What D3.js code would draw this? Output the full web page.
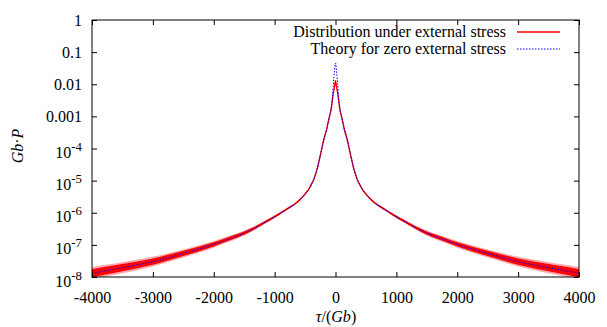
<!DOCTYPE html>
<html><head><meta charset="utf-8">
<script src="https://cdn.jsdelivr.net/npm/d3@7"></script>
<style>
body{margin:0;background:#fff}
svg{display:block}
text{font-family:"Liberation Serif","Times New Roman",serif;fill:#000}
</style>
</head><body>
<svg id="chart" width="607" height="327"></svg>
<script>
// ---- data ----
const stressX = [-4000,-3750,-3500,-3250,-3000,-2750,-2500,-2250,-2000,-1800,-1600,-1400,-1268,-1150,-1043,-930,-821,-740,-657,-575,-493,-427,-395,-361,-330,-304,-275,-246,-220,-194,-170,-148,-130,-112,-92,-74,-55,-36,-15,0,
  15,36,55,74,92,112,130,148,170,194,220,246,275,304,330,361,395,427,493,575,657,740,821,930,1043,1150,1268,1400,1600,1800,2000,2250,2500,2750,3000,3250,3500,3750,4000];
const distP = [1.3e-8,1.6e-8,1.95e-8,2.4e-8,3e-8,4e-8,5.4e-8,7.4e-8,1.04e-7,1.43e-7,1.95e-7,2.85e-7,3.87e-7,5.2e-7,6.7e-7,9.1e-7,1.22e-6,1.53e-6,1.94e-6,2.68e-6,3.95e-6,5.9e-6,7.8e-6,1.045e-5,1.55e-5,2.2e-5,3.8e-5,6.5e-5,1.1e-4,1.84e-4,2.67e-4,3.77e-4,5.4e-4,7.7e-4,1.13e-3,1.58e-3,2.9e-3,5.2e-3,8.8e-3,1.29e-2,
  8.8e-3,5.2e-3,2.9e-3,1.58e-3,1.13e-3,7.7e-4,5.4e-4,3.77e-4,2.67e-4,1.84e-4,1.1e-4,6.5e-5,3.8e-5,2.2e-5,1.55e-5,1.045e-5,7.8e-6,5.9e-6,3.95e-6,2.68e-6,1.94e-6,1.53e-6,1.22e-6,9.1e-7,6.7e-7,5.2e-7,3.87e-7,2.85e-7,1.95e-7,1.43e-7,1.04e-7,7.4e-8,5.4e-8,4e-8,3e-8,2.4e-8,1.95e-8,1.6e-8,1.3e-8];
// half-width of the noisy band, in decades
const distSpread = [0.17,0.16,0.15,0.14,0.13,0.12,0.11,0.10,0.09,0.08,0.07,0.06,0.05,0.045,0.04,0.035,0.03,0.03,0.025,0.025,0.02,0.02,0.02,0.02,0.015,0.015,0.015,0.015,0.015,0.015,0.015,0.015,0.015,0.015,0.015,0.015,0.015,0.015,0.015,0.015,
  0.015,0.015,0.015,0.015,0.015,0.015,0.015,0.015,0.015,0.015,0.015,0.015,0.015,0.015,0.015,0.02,0.02,0.02,0.02,0.025,0.025,0.03,0.03,0.035,0.04,0.045,0.05,0.06,0.07,0.08,0.09,0.10,0.11,0.12,0.13,0.14,0.15,0.16,0.17];
const theoryX = [-4000,-3500,-3000,-2500,-2000,-1600,-1268,-1043,-821,-657,-493,-427,-361,-304,-246,-194,-148,-112,-74,-55,-36,-18,0,
  18,36,55,74,112,148,194,246,304,361,427,493,657,821,1043,1268,1600,2000,2500,3000,3500,4000];
const theoryP = [1.3e-8,1.95e-8,3e-8,5.4e-8,1.04e-7,1.95e-7,3.87e-7,6.7e-7,1.22e-6,1.94e-6,3.95e-6,5.9e-6,1.045e-5,2.2e-5,6.5e-5,1.84e-4,3.77e-4,7.7e-4,1.6e-3,3.0e-3,1.0e-2,2.4e-2,4.6e-2,
  2.4e-2,1.0e-2,3.0e-3,1.6e-3,7.7e-4,3.77e-4,1.84e-4,6.5e-5,2.2e-5,1.045e-5,5.9e-6,3.95e-6,1.94e-6,1.22e-6,6.7e-7,3.87e-7,1.95e-7,1.04e-7,5.4e-8,3e-8,1.95e-8,1.3e-8];
const xTicks = [-4000,-3000,-2000,-1000,0,1000,2000,3000,4000];
const yTicks = [1,0.1,0.01,0.001,1e-4,1e-5,1e-6,1e-7,1e-8];
const yTickBase = ["1","0.1","0.01","0.001","10","10","10","10","10"];
const yTickExp  = ["","","","","-4","-5","-6","-7","-8"];
const legendLabels = ["Distribution under external stress","Theory for zero external stress"];
const seriesColors = ["#ff0000","#0000ff"];

// ---- layout ----
const W = 607, H = 327;
const m = {left:92, right:28, top:20, bottom:50};
const svg = d3.select("#chart");
const x = d3.scaleLinear().domain([-4000,4000]).range([m.left, W-m.right]);
const y = d3.scaleLog().domain([1e-8,1]).range([H-m.bottom, m.top]);

svg.append("defs").append("clipPath").attr("id","clip")
  .append("rect").attr("x",m.left).attr("y",m.top)
  .attr("width",W-m.left-m.right).attr("height",H-m.top-m.bottom);

const dist = stressX.map((v,i)=>({x:v,p:distP[i],s:distSpread[i]}));
const theo = theoryX.map((v,i)=>({x:v,p:theoryP[i]}));

const plot = svg.append("g").attr("clip-path","url(#clip)");
const band = k => d3.area().curve(d3.curveMonotoneX).x(d=>x(d.x))
  .y0(d=>y(d.p/Math.pow(10,d.s*k))).y1(d=>y(d.p*Math.pow(10,d.s*k)));
plot.append("path").datum(dist).attr("d",band(1.15)).attr("fill",seriesColors[0]).attr("opacity",0.35);
plot.append("path").datum(dist).attr("d",band(0.75)).attr("fill",seriesColors[0]);
plot.append("path").datum(dist)
  .attr("d",d3.line().curve(d3.curveMonotoneX).x(d=>x(d.x)).y(d=>y(d.p)))
  .attr("fill","none").attr("stroke",seriesColors[0]).attr("stroke-width",1.4);
plot.append("path").datum(theo)
  .attr("d",d3.line().curve(d3.curveMonotoneX).x(d=>x(d.x)).y(d=>y(d.p)))
  .attr("fill","none").attr("stroke",seriesColors[1]).attr("stroke-width",1)
  .attr("stroke-dasharray","1.5,1.5");

// ---- axes (gnuplot style: inward ticks, mirrored) ----
const tl = 5;
const ax = svg.append("g");
const bottomAxis = d3.axisBottom(x).tickValues(xTicks).tickSize(-tl).tickFormat(d=>String(d));
const gB = ax.append("g").attr("transform",`translate(0,${H-m.bottom})`).call(bottomAxis);
gB.selectAll("text").attr("font-size",16).attr("dy",null).attr("y",26)
  .style("font-family",'"Liberation Serif",serif');
const topAxis = d3.axisTop(x).tickValues(xTicks).tickSize(-tl).tickFormat("");
ax.append("g").attr("transform",`translate(0,${m.top})`).call(topAxis);
const leftAxis = d3.axisLeft(y).tickValues(yTicks).tickSize(-tl).tickFormat("");
ax.append("g").attr("transform",`translate(${m.left},0)`).call(leftAxis);
const rightAxis = d3.axisRight(y).tickValues(yTicks).tickSize(-tl).tickFormat("");
ax.append("g").attr("transform",`translate(${W-m.right},0)`).call(rightAxis);
ax.selectAll(".domain").remove();
ax.selectAll(".tick line").attr("stroke","#000");

// y tick labels with superscripts
yTicks.forEach((v,i)=>{
  const hasExp = yTickExp[i] !== "";
  const t = svg.append("text").attr("text-anchor","end").attr("font-size",16)
    .attr("x",m.left-10).attr("y",y(v) + (hasExp ? 9.5 : 5.5));
  t.append("tspan").text(yTickBase[i]);
  if (hasExp) t.append("tspan").attr("font-size",12.8).attr("dy",-7).text(yTickExp[i]);
});

// frame
svg.append("rect").attr("x",m.left).attr("y",m.top)
  .attr("width",W-m.left-m.right).attr("height",H-m.top-m.bottom)
  .attr("fill","none").attr("stroke","#000").attr("stroke-width",1);

// axis titles
const xt = svg.append("text").attr("text-anchor","middle").attr("font-size",16)
  .attr("x",336).attr("y",322);
xt.append("tspan").attr("font-style","italic").text("τ");
xt.append("tspan").text("/(");
xt.append("tspan").attr("font-style","italic").text("Gb");
xt.append("tspan").text(")");
const yt = svg.append("text").attr("text-anchor","middle").attr("font-size",16)
  .attr("transform","translate(23,146) rotate(-90)");
yt.append("tspan").attr("font-style","italic").text("Gb");
yt.append("tspan").text("·");
yt.append("tspan").attr("font-style","italic").text("P");

// legend
const lg = svg.append("g");
[0,1].forEach(i=>{
  const cy = [32,49][i];
  lg.append("text").attr("text-anchor","end").attr("font-size",16)
    .attr("x",506).attr("y",cy+5).text(legendLabels[i]);
  lg.append("line").attr("x1",517).attr("x2",560).attr("y1",cy).attr("y2",cy)
    .attr("stroke",seriesColors[i]).attr("stroke-width",i===0?1.3:1)
    .attr("stroke-dasharray",i===0?null:"1.5,1.5");
});
</script>
</body></html>
